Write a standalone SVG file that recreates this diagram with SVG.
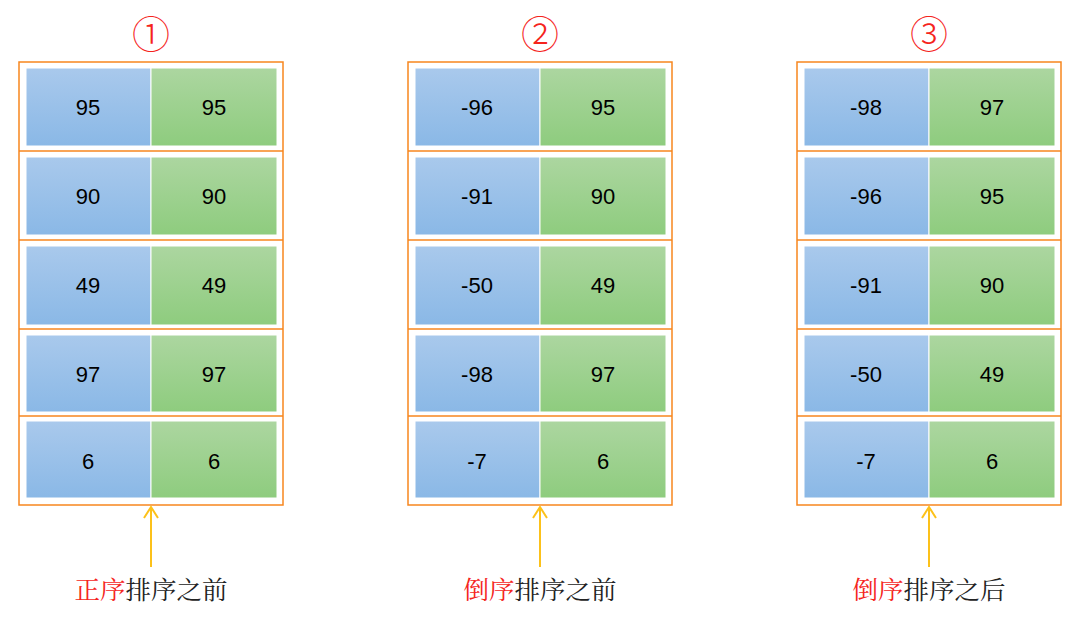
<svg xmlns="http://www.w3.org/2000/svg" width="1080" height="627" viewBox="0 0 1080 627">
<style>
.frame{fill:none;stroke:#f7861e;stroke-width:1.5}
.sep{stroke:#f7861e;stroke-width:1.5}
.b{fill:url(#gb);stroke:#fff;stroke-width:1}
.g{fill:url(#gg);stroke:#fff;stroke-width:1}
.v{font-family:"Liberation Sans",Arial,sans-serif;font-size:22px;fill:#000;text-anchor:middle;dominant-baseline:central}
.num{font-family:"Noto Sans CJK SC",sans-serif;font-weight:300;font-size:38px;fill:#f5241c;text-anchor:middle}
.lab{font-family:"Noto Serif CJK SC","Noto Sans CJK SC",serif;font-size:25.5px;fill:#222;text-anchor:middle}
.red{fill:#f5241c}
.arr{stroke:#fcc11a;stroke-width:2;fill:none}
</style>
<defs>
<linearGradient id="gb" x1="0" y1="0" x2="0" y2="1"><stop offset="0" stop-color="#a9c9ec"/><stop offset="1" stop-color="#8ab8e6"/></linearGradient>
<linearGradient id="gg" x1="0" y1="0" x2="0" y2="1"><stop offset="0" stop-color="#acd6a0"/><stop offset="1" stop-color="#8ecc7e"/></linearGradient>
<g id="table">
<rect class="frame" x="19" y="62" width="264" height="443"/>
<line class="sep" x1="19" y1="151" x2="283" y2="151"/>
<line class="sep" x1="19" y1="240" x2="283" y2="240"/>
<line class="sep" x1="19" y1="329" x2="283" y2="329"/>
<line class="sep" x1="19" y1="416" x2="283" y2="416"/>
<rect class="b" x="26" y="68" width="125" height="78"/><rect class="g" x="151" y="68" width="126" height="78"/>
<rect class="b" x="26" y="157" width="125" height="78"/><rect class="g" x="151" y="157" width="126" height="78"/>
<rect class="b" x="26" y="246" width="125" height="79"/><rect class="g" x="151" y="246" width="126" height="79"/>
<rect class="b" x="26" y="335" width="125" height="77"/><rect class="g" x="151" y="335" width="126" height="77"/>
<rect class="b" x="26" y="421" width="125" height="77"/><rect class="g" x="151" y="421" width="126" height="77"/>
</g>
</defs>
<g id="node1">
<use href="#table"/>
<text class="num" x="151" y="48">①</text>
<text class="v" x="88" y="107">95</text><text class="v" x="214" y="107">95</text>
<text class="v" x="88" y="196">90</text><text class="v" x="214" y="196">90</text>
<text class="v" x="88" y="285">49</text><text class="v" x="214" y="285">49</text>
<text class="v" x="88" y="374">97</text><text class="v" x="214" y="374">97</text>
<text class="v" x="88" y="461">6</text><text class="v" x="214" y="461">6</text>
<text class="lab" x="151" y="599"><tspan class="red">正序</tspan>排序之前</text>
</g>
<g id="node2" transform="translate(389,0)">
<use href="#table"/>
<text class="num" x="151" y="48">②</text>
<text class="v" x="88" y="107">-96</text><text class="v" x="214" y="107">95</text>
<text class="v" x="88" y="196">-91</text><text class="v" x="214" y="196">90</text>
<text class="v" x="88" y="285">-50</text><text class="v" x="214" y="285">49</text>
<text class="v" x="88" y="374">-98</text><text class="v" x="214" y="374">97</text>
<text class="v" x="88" y="461">-7</text><text class="v" x="214" y="461">6</text>
<text class="lab" x="151" y="599"><tspan class="red">倒序</tspan>排序之前</text>
</g>
<g id="node3" transform="translate(778,0)">
<use href="#table"/>
<text class="num" x="151" y="48">③</text>
<text class="v" x="88" y="107">-98</text><text class="v" x="214" y="107">97</text>
<text class="v" x="88" y="196">-96</text><text class="v" x="214" y="196">95</text>
<text class="v" x="88" y="285">-91</text><text class="v" x="214" y="285">90</text>
<text class="v" x="88" y="374">-50</text><text class="v" x="214" y="374">49</text>
<text class="v" x="88" y="461">-7</text><text class="v" x="214" y="461">6</text>
<text class="lab" x="151" y="599"><tspan class="red">倒序</tspan>排序之后</text>
</g>
<g id="connectors">
<path class="arr" d="M151 567V507M144 518L151 507L158 518"/>
<path class="arr" d="M540 567V507M533 518L540 507L547 518"/>
<path class="arr" d="M929 567V507M922 518L929 507L936 518"/>
</g>
</svg>
